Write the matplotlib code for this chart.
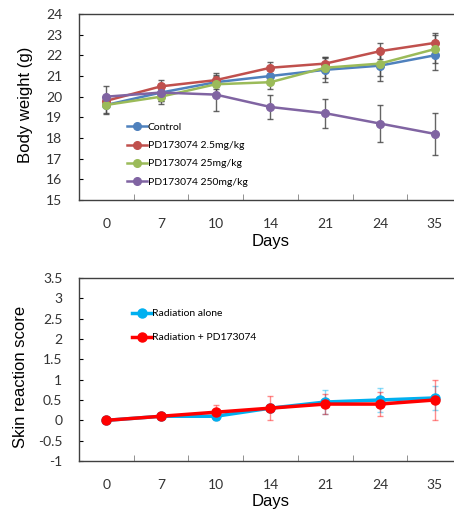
import matplotlib
matplotlib.use('Agg')
import matplotlib.pyplot as plt
from matplotlib.ticker import FixedLocator, MultipleLocator

# ---- data ----
days = ['0', '7', '10', '14', '21', '24', '35']

weight_labels = ['Control', 'PD173074 2.5mg/kg', 'PD173074 25mg/kg', 'PD173074 250mg/kg']
weight_colors = ['#4F81BD', '#C0504D', '#9BBB59', '#8064A2']
control = [19.6, 20.2, 20.7, 21.0, 21.3, 21.5, 22.0]
control_err = [0.4, 0.4, 0.35, 0.3, 0.6, 0.75, 0.7]
pd_2_5 = [19.8, 20.5, 20.8, 21.4, 21.6, 22.2, 22.6]
pd_2_5_err = [0.3, 0.3, 0.35, 0.3, 0.26, 0.4, 0.5]
pd_25 = [19.6, 20.0, 20.6, 20.7, 21.4, 21.6, 22.3]
pd_25_err = [0.45, 0.35, 0.4, 0.35, 0.5, 0.6, 0.67]
pd_250 = [20.0, 20.2, 20.1, 19.5, 19.2, 18.7, 18.2]
pd_250_err = [0.5, 0.4, 0.8, 0.6, 0.7, 0.9, 1.0]

skin_labels = ['Radiation alone', 'Radiation + PD173074']
skin_colors = ['#00B0F0', '#FF0000']
rad_alone = [0.0, 0.1, 0.1, 0.3, 0.45, 0.5, 0.55]
rad_alone_err = [0.0, 0.02, 0.05, 0.1, 0.3, 0.3, 0.3]
rad_pd = [0.0, 0.1, 0.2, 0.3, 0.4, 0.4, 0.5]
rad_pd_err = [0.0, 0.02, 0.18, 0.3, 0.25, 0.3, 0.5]

plt.rcParams['font.family'] = ['Liberation Sans', 'DejaVu Sans']
TICK_FONT = ['Lato', 'DejaVu Sans']


def style_axes(ax, ymin, ymax, ystep):
    x = range(len(days))
    ax.set_xlim(-0.5, len(days) - 0.5)
    ax.set_ylim(ymin, ymax)
    ax.set_xticks(list(x))
    ax.set_xticklabels(days)
    ax.xaxis.set_minor_locator(FixedLocator([i + 0.5 for i in range(len(days) - 1)]))
    ax.yaxis.set_major_locator(MultipleLocator(ystep))
    ax.tick_params(axis='x', which='major', length=0, pad=13, labelsize=10)
    ax.tick_params(axis='x', which='minor', direction='in', length=4, color='#808080')
    ax.tick_params(axis='y', which='major', direction='in', length=3, pad=12, labelsize=10)
    for sp in ax.spines.values():
        sp.set_color('#404040')
        sp.set_linewidth(1)
    ax.set_xlabel('Days', fontsize=12)


def tick_fonts(ax):
    for lab in ax.get_xticklabels() + ax.get_yticklabels():
        lab.set_family(TICK_FONT)
        lab.set_color('#333333')


fig = plt.figure(figsize=(4.54, 5.11), dpi=100)

# ---- body weight ----
ax1 = fig.add_axes([79 / 454, 1 - 200 / 511, 383 / 454, 186 / 511])
x = list(range(len(days)))
weights = [(control, control_err), (pd_2_5, pd_2_5_err), (pd_25, pd_25_err), (pd_250, pd_250_err)]
for (vals, err), lab, col in zip(weights, weight_labels, weight_colors):
    ax1.errorbar(x, vals, yerr=err, fmt='none', ecolor='#4a4a4a', elinewidth=1,
                 capsize=2.5, capthick=1, alpha=0.85)
for (vals, err), lab, col in zip(weights, weight_labels, weight_colors):
    ax1.plot(x, vals, color=col, lw=1.8, marker='o', ms=5.5, label=lab)
style_axes(ax1, 15, 24, 1)
tick_fonts(ax1)
ax1.xaxis.set_label_coords(0.5, -0.185)
ax1.set_ylabel('Body weight (g)', fontsize=12)
ax1.yaxis.set_label_coords(-0.12, 0.51)
ax1.legend(loc='upper left', bbox_to_anchor=(0.126, 0.415), frameon=False,
           prop={'family': TICK_FONT, 'size': 7.5}, handlelength=1.9,
           handletextpad=0.05, labelspacing=0.85, borderaxespad=0, borderpad=0)

# ---- skin reaction ----
ax2 = fig.add_axes([79 / 454, 1 - 461 / 511, 383 / 454, 183 / 511])
skins = [(rad_alone, rad_alone_err), (rad_pd, rad_pd_err)]
for (vals, err), lab, col in zip(skins, skin_labels, skin_colors):
    ax2.errorbar(x, vals, yerr=err, fmt='none', ecolor=col, elinewidth=1,
                 capsize=2.5, capthick=1, alpha=0.45)
for (vals, err), lab, col in zip(skins, skin_labels, skin_colors):
    ax2.plot(x, vals, color=col, lw=2.5, marker='o', ms=6.5, label=lab)
style_axes(ax2, -1, 3.5, 0.5)
ax2.set_yticklabels(['{:g}'.format(v) for v in ax2.get_yticks()])
tick_fonts(ax2)
ax2.xaxis.set_label_coords(0.5, -0.183)
ax2.set_ylabel('Skin reaction score', fontsize=12)
ax2.yaxis.set_label_coords(-0.133, 0.46)
ax2.legend(loc='upper left', bbox_to_anchor=(0.138, 0.83), frameon=False,
           prop={'family': TICK_FONT, 'size': 7.5}, handlelength=1.9,
           handletextpad=0.05, labelspacing=1.4, borderaxespad=0, borderpad=0)

fig.savefig('out.png', dpi=100)
